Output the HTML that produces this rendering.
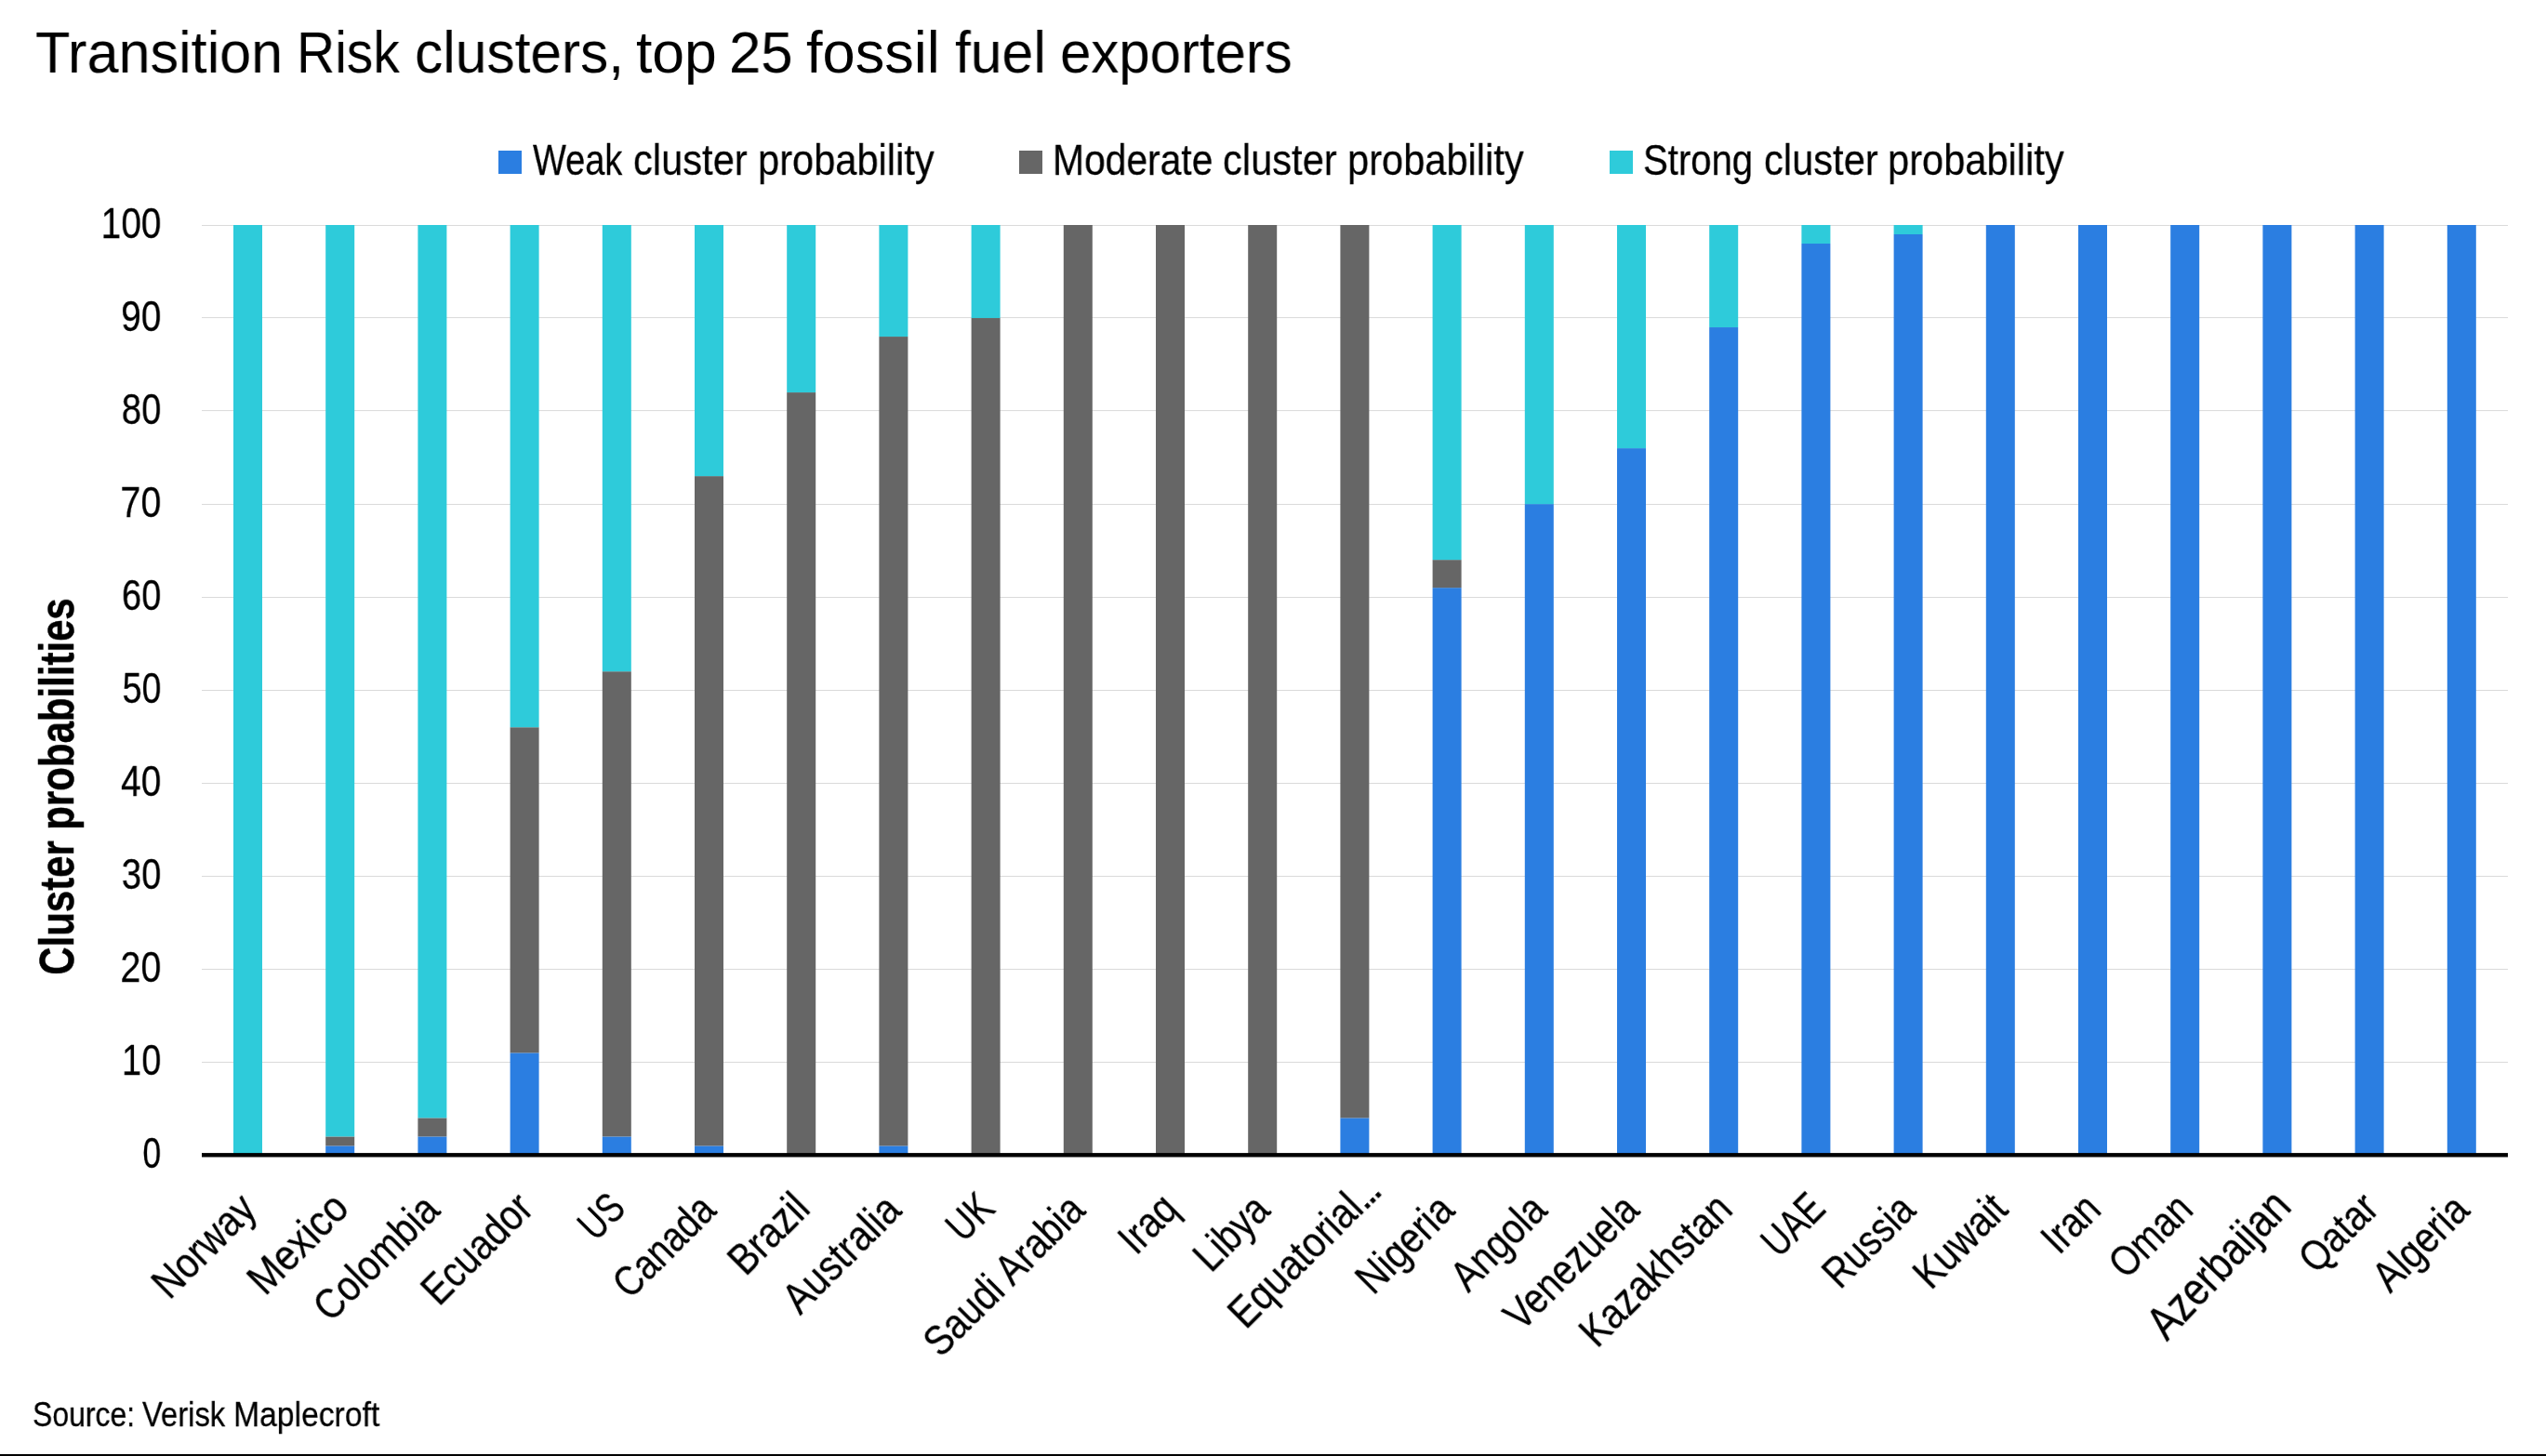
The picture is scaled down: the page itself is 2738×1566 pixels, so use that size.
<!DOCTYPE html><html><head><meta charset="utf-8"><style>
html,body{margin:0;padding:0;background:#fff;}
.a,.t,.xl{will-change:transform;}
.k{-webkit-text-stroke:0.27px #000;}
body{width:2738px;height:1566px;position:relative;overflow:hidden;font-family:"Liberation Sans",sans-serif;color:#000;}
.a{position:absolute;white-space:nowrap;}
.t{position:absolute;white-space:nowrap;right:2565px;font-size:47px;line-height:47px;transform-origin:100% 50%;}
.xl{position:absolute;white-space:nowrap;font-size:47px;line-height:47px;transform-origin:100% 50%;}
svg{position:absolute;left:0;top:0;}
</style></head><body>
<svg width="2738" height="1566" viewBox="0 0 2738 1566">
<rect x="217" y="242" width="2480" height="1" fill="#dadada"/>
<rect x="217" y="341.1" width="2480" height="1" fill="#dadada"/>
<rect x="217" y="441.1" width="2480" height="1" fill="#dadada"/>
<rect x="217" y="542" width="2480" height="1" fill="#dadada"/>
<rect x="217" y="642" width="2480" height="1" fill="#dadada"/>
<rect x="217" y="742" width="2480" height="1" fill="#dadada"/>
<rect x="217" y="842" width="2480" height="1" fill="#dadada"/>
<rect x="217" y="942" width="2480" height="1" fill="#dadada"/>
<rect x="217" y="1042" width="2480" height="1" fill="#dadada"/>
<rect x="217" y="1142" width="2480" height="1" fill="#dadada"/>
<rect x="251.00" y="242.00" width="31" height="1000.40" fill="#2ecbda"/>
<rect x="350.20" y="1232.40" width="31" height="10.00" fill="#2b7ee1"/>
<rect x="350.20" y="1222.39" width="31" height="10.00" fill="#666666"/>
<rect x="350.20" y="242.00" width="31" height="980.39" fill="#2ecbda"/>
<rect x="449.40" y="1222.39" width="31" height="20.01" fill="#2b7ee1"/>
<rect x="449.40" y="1202.38" width="31" height="20.01" fill="#666666"/>
<rect x="449.40" y="242.00" width="31" height="960.38" fill="#2ecbda"/>
<rect x="548.60" y="1132.36" width="31" height="110.04" fill="#2b7ee1"/>
<rect x="548.60" y="782.22" width="31" height="350.14" fill="#666666"/>
<rect x="548.60" y="242.00" width="31" height="540.22" fill="#2ecbda"/>
<rect x="647.80" y="1222.39" width="31" height="20.01" fill="#2b7ee1"/>
<rect x="647.80" y="722.19" width="31" height="500.20" fill="#666666"/>
<rect x="647.80" y="242.00" width="31" height="480.19" fill="#2ecbda"/>
<rect x="747.00" y="1232.40" width="31" height="10.00" fill="#2b7ee1"/>
<rect x="747.00" y="512.11" width="31" height="720.29" fill="#666666"/>
<rect x="747.00" y="242.00" width="31" height="270.11" fill="#2ecbda"/>
<rect x="846.20" y="422.07" width="31" height="820.33" fill="#666666"/>
<rect x="846.20" y="242.00" width="31" height="180.07" fill="#2ecbda"/>
<rect x="945.40" y="1232.40" width="31" height="10.00" fill="#2b7ee1"/>
<rect x="945.40" y="362.05" width="31" height="870.35" fill="#666666"/>
<rect x="945.40" y="242.00" width="31" height="120.05" fill="#2ecbda"/>
<rect x="1044.60" y="342.04" width="31" height="900.36" fill="#666666"/>
<rect x="1044.60" y="242.00" width="31" height="100.04" fill="#2ecbda"/>
<rect x="1143.80" y="242.00" width="31" height="1000.40" fill="#666666"/>
<rect x="1243.00" y="242.00" width="31" height="1000.40" fill="#666666"/>
<rect x="1342.20" y="242.00" width="31" height="1000.40" fill="#666666"/>
<rect x="1441.40" y="1202.38" width="31" height="40.02" fill="#2b7ee1"/>
<rect x="1441.40" y="242.00" width="31" height="960.38" fill="#666666"/>
<rect x="1540.60" y="632.16" width="31" height="610.24" fill="#2b7ee1"/>
<rect x="1540.60" y="602.14" width="31" height="30.01" fill="#666666"/>
<rect x="1540.60" y="242.00" width="31" height="360.14" fill="#2ecbda"/>
<rect x="1639.80" y="542.12" width="31" height="700.28" fill="#2b7ee1"/>
<rect x="1639.80" y="242.00" width="31" height="300.12" fill="#2ecbda"/>
<rect x="1739.00" y="482.10" width="31" height="760.30" fill="#2b7ee1"/>
<rect x="1739.00" y="242.00" width="31" height="240.10" fill="#2ecbda"/>
<rect x="1838.20" y="352.04" width="31" height="890.36" fill="#2b7ee1"/>
<rect x="1838.20" y="242.00" width="31" height="110.04" fill="#2ecbda"/>
<rect x="1937.40" y="262.01" width="31" height="980.39" fill="#2b7ee1"/>
<rect x="1937.40" y="242.00" width="31" height="20.01" fill="#2ecbda"/>
<rect x="2036.60" y="252.00" width="31" height="990.40" fill="#2b7ee1"/>
<rect x="2036.60" y="242.00" width="31" height="10.00" fill="#2ecbda"/>
<rect x="2135.80" y="242.00" width="31" height="1000.40" fill="#2b7ee1"/>
<rect x="2235.00" y="242.00" width="31" height="1000.40" fill="#2b7ee1"/>
<rect x="2334.20" y="242.00" width="31" height="1000.40" fill="#2b7ee1"/>
<rect x="2433.40" y="242.00" width="31" height="1000.40" fill="#2b7ee1"/>
<rect x="2532.60" y="242.00" width="31" height="1000.40" fill="#2b7ee1"/>
<rect x="2631.80" y="242.00" width="31" height="1000.40" fill="#2b7ee1"/>
<rect x="217" y="1240.1" width="2480" height="4.4" fill="#000"/>
<rect x="0" y="1564" width="2738" height="2" fill="#000"/>
</svg>
<div class="a" style="left:37.94px;top:21.30px;font-size:62.50px;line-height:70.00px;transform-origin:0 0;transform:scaleX(0.9783)">Transition</div>
<div class="a" style="left:319.15px;top:21.30px;font-size:62.50px;line-height:70.00px;transform-origin:0 0;transform:scaleX(0.9115)">Risk</div>
<div class="a" style="left:445.91px;top:21.30px;font-size:62.50px;line-height:70.00px;transform-origin:0 0;transform:scaleX(0.9674)">clusters,</div>
<div class="a" style="left:683.50px;top:21.30px;font-size:62.50px;line-height:70.00px;transform-origin:0 0;transform:scaleX(0.9947)">top</div>
<div class="a" style="left:783.81px;top:21.30px;font-size:62.50px;line-height:70.00px;transform-origin:0 0;transform:scaleX(0.9866)">25</div>
<div class="a" style="left:867.00px;top:21.30px;font-size:62.50px;line-height:70.00px;transform-origin:0 0;transform:scaleX(1.0103)">fossil</div>
<div class="a" style="left:1027.20px;top:21.30px;font-size:62.50px;line-height:70.00px;transform-origin:0 0;transform:scaleX(0.9705)">fuel</div>
<div class="a" style="left:1139.93px;top:21.30px;font-size:62.50px;line-height:70.00px;transform-origin:0 0;transform:scaleX(0.9586)">exporters</div>
<div class="a" style="left:536px;top:162px;width:25px;height:25px;background:#2b7ee1"></div>
<div class="a k" style="left:572.80px;top:146.80px;font-size:47.00px;line-height:50.00px;transform-origin:0 0;transform:scaleX(0.8075)">Weak</div>
<div class="a k" style="left:680.97px;top:146.80px;font-size:47.00px;line-height:50.00px;transform-origin:0 0;transform:scaleX(0.8862)">cluster</div>
<div class="a k" style="left:814.57px;top:146.80px;font-size:47.00px;line-height:50.00px;transform-origin:0 0;transform:scaleX(0.8852)">probability</div>
<div class="a" style="left:1096px;top:162px;width:25px;height:25px;background:#666666"></div>
<div class="a k" style="left:1131.81px;top:146.80px;font-size:47.00px;line-height:50.00px;transform-origin:0 0;transform:scaleX(0.8680)">Moderate</div>
<div class="a k" style="left:1315.29px;top:146.80px;font-size:47.00px;line-height:50.00px;transform-origin:0 0;transform:scaleX(0.8862)">cluster</div>
<div class="a k" style="left:1448.89px;top:146.80px;font-size:47.00px;line-height:50.00px;transform-origin:0 0;transform:scaleX(0.8852)">probability</div>
<div class="a" style="left:1731px;top:162px;width:25px;height:25px;background:#2ecbda"></div>
<div class="a k" style="left:1767.05px;top:146.80px;font-size:47.00px;line-height:50.00px;transform-origin:0 0;transform:scaleX(0.8528)">Strong</div>
<div class="a k" style="left:1896.80px;top:146.80px;font-size:47.00px;line-height:50.00px;transform-origin:0 0;transform:scaleX(0.8862)">cluster</div>
<div class="a k" style="left:2030.40px;top:146.80px;font-size:47.00px;line-height:50.00px;transform-origin:0 0;transform:scaleX(0.8852)">probability</div>
<div class="t k" style="right:2564.39px;top:216.0px;transform:scaleX(0.8264)">100</div>
<div class="t k" style="right:2564.40px;top:316.0px;transform:scaleX(0.8245)">90</div>
<div class="t k" style="right:2564.41px;top:416.0px;transform:scaleX(0.8123)">80</div>
<div class="t k" style="right:2564.38px;top:516.0px;transform:scaleX(0.8391)">70</div>
<div class="t k" style="right:2564.41px;top:616.0px;transform:scaleX(0.8100)">60</div>
<div class="t k" style="right:2564.43px;top:716.0px;transform:scaleX(0.7980)">50</div>
<div class="t k" style="right:2564.39px;top:816.0px;transform:scaleX(0.8288)">40</div>
<div class="t k" style="right:2564.41px;top:916.0px;transform:scaleX(0.8123)">30</div>
<div class="t k" style="right:2564.38px;top:1016.0px;transform:scaleX(0.8391)">20</div>
<div class="t k" style="right:2564.42px;top:1116.0px;transform:scaleX(0.8075)">10</div>
<div class="t k" style="right:2564.47px;top:1216.0px;transform:scaleX(0.7580)">0</div>
<div class="xl k" style="right:2471.73px;top:1267.63px;transform:rotate(-45deg) scaleX(0.8496)">Norway</div>
<div class="xl k" style="right:2372.09px;top:1267.19px;transform:rotate(-45deg) scaleX(0.8785)">Mexico</div>
<div class="xl k" style="right:2274.52px;top:1268.82px;transform:rotate(-45deg) scaleX(0.8503)">Colombia</div>
<div class="xl k" style="right:2173.92px;top:1267.41px;transform:rotate(-45deg) scaleX(0.8378)">Ecuador</div>
<div class="xl k" style="right:2074.67px;top:1267.36px;transform:rotate(-45deg) scaleX(0.7427)">US</div>
<div class="xl k" style="right:1976.91px;top:1268.81px;transform:rotate(-45deg) scaleX(0.8115)">Canada</div>
<div class="xl k" style="right:1876.18px;top:1267.27px;transform:rotate(-45deg) scaleX(0.8596)">Brazil</div>
<div class="xl k" style="right:1778.52px;top:1268.82px;transform:rotate(-45deg) scaleX(0.8593)">Australia</div>
<div class="xl k" style="right:1677.48px;top:1266.98px;transform:rotate(-45deg) scaleX(0.7711)">UK</div>
<div class="xl k" style="right:1580.12px;top:1268.81px;transform:rotate(-45deg) scaleX(0.8349)">Saudi Arabia</div>
<div class="xl k" style="right:1479.87px;top:1267.76px;transform:rotate(-45deg) scaleX(0.8387)">Iraq</div>
<div class="xl k" style="right:1381.71px;top:1268.81px;transform:rotate(-45deg) scaleX(0.8272)">Libya</div>
<div class="xl k" style="right:1281.13px;top:1267.29px;transform:rotate(-45deg) scaleX(0.8595)">Equatorial</div>
<div class="a k" style="left:1456.26px;top:1267.89px;font-size:47px;line-height:47px;letter-spacing:-4.86px;transform-origin:0 50%;transform:rotate(-45deg)">...</div>
<div class="xl k" style="right:1183.32px;top:1268.82px;transform:rotate(-45deg) scaleX(0.8524)">Nigeria</div>
<div class="xl k" style="right:1084.12px;top:1268.81px;transform:rotate(-45deg) scaleX(0.8419)">Angola</div>
<div class="xl k" style="right:984.92px;top:1268.81px;transform:rotate(-45deg) scaleX(0.8304)">Venezuela</div>
<div class="xl k" style="right:884.63px;top:1267.72px;transform:rotate(-45deg) scaleX(0.8511)">Kazakhstan</div>
<div class="xl k" style="right:784.85px;top:1267.15px;transform:rotate(-45deg) scaleX(0.7624)">UAE</div>
<div class="xl k" style="right:687.31px;top:1268.81px;transform:rotate(-45deg) scaleX(0.8226)">Russia</div>
<div class="xl k" style="right:587.68px;top:1268.37px;transform:rotate(-45deg) scaleX(0.8550)">Kuwait</div>
<div class="xl k" style="right:487.87px;top:1267.77px;transform:rotate(-45deg) scaleX(0.8292)">Iran</div>
<div class="xl k" style="right:388.69px;top:1267.79px;transform:rotate(-45deg) scaleX(0.8176)">Oman</div>
<div class="xl k" style="right:189.92px;top:1267.41px;transform:rotate(-45deg) scaleX(0.8338)">Qatar</div>
<div class="xl k" style="right:92.12px;top:1268.81px;transform:rotate(-45deg) scaleX(0.8473)">Algeria</div>
<div class="xl k" style="right:284.04px;top:1263.39px;font-size:49.44px;line-height:49.44px;transform:rotate(-46.6deg) scaleX(0.8473)">Azerbaijan</div>
<div class="a" style="-webkit-text-stroke:0.45px #000;left:61px;top:846px;font-size:52px;line-height:52px;font-weight:bold;transform:translate(-50%,-50%) rotate(-90deg) scaleX(0.8065)">Cluster probabilities</div>
<div class="a k" style="left:35.30px;top:1499.00px;font-size:37.80px;line-height:44.00px;transform-origin:0 0;transform:scaleX(0.8451)">Source:</div>
<div class="a k" style="left:153.22px;top:1499.00px;font-size:37.80px;line-height:44.00px;transform-origin:0 0;transform:scaleX(0.8658)">Verisk</div>
<div class="a k" style="left:250.88px;top:1499.00px;font-size:37.80px;line-height:44.00px;transform-origin:0 0;transform:scaleX(0.8910)">Maplecroft</div>
</body></html>
